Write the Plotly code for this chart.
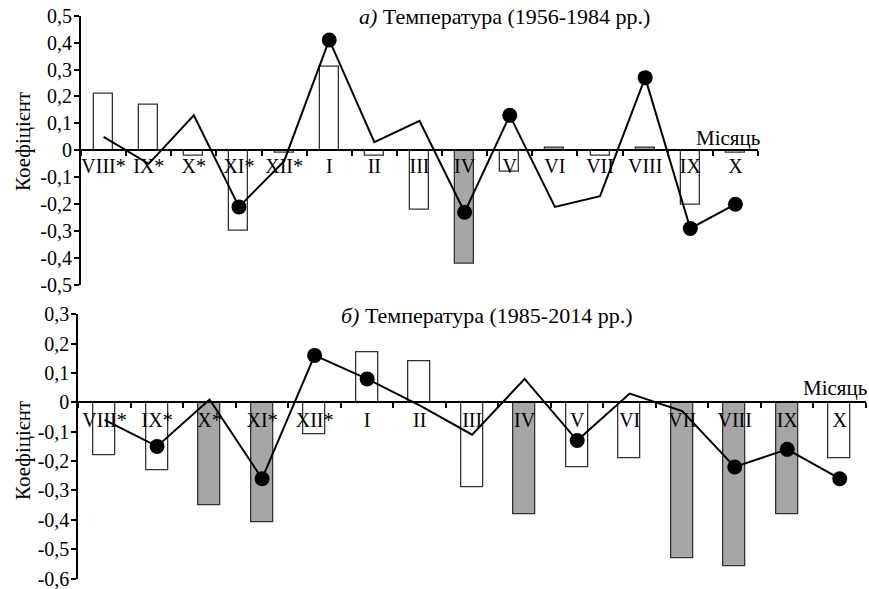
import plotly.graph_objects as go

# ---------------- data ----------------
months = ["VIII*", "IX*", "X*", "XI*", "XII*", "I", "II", "III", "IV", "V",
          "VI", "VII", "VIII", "IX", "X"]

# panel a) 1956-1984
bars_a = [0.21, 0.17, -0.02, -0.30, -0.01, 0.31, -0.02, -0.22, -0.42, -0.08,
          0.01, -0.02, 0.01, -0.20, -0.01]
sig_bars_a = [0, 0, 0, 0, 0, 0, 0, 0, 1, 0, 1, 0, 1, 0, 0]
line_a = [0.05, -0.05, 0.13, -0.21, -0.04, 0.41, 0.03, 0.11, -0.23, 0.13,
          -0.21, -0.17, 0.27, -0.29, -0.20]
sig_line_a = [0, 0, 0, 1, 0, 1, 0, 0, 1, 1, 0, 0, 1, 1, 1]

# panel б) 1985-2014
bars_b = [-0.18, -0.23, -0.35, -0.41, -0.11, 0.17, 0.14, -0.29, -0.38, -0.22,
          -0.19, -0.53, -0.56, -0.38, -0.19]
sig_bars_b = [0, 0, 1, 1, 0, 0, 0, 0, 1, 0, 0, 1, 1, 1, 0]
line_b = [-0.06, -0.15, 0.01, -0.26, 0.16, 0.08, -0.01, -0.11, 0.08, -0.13,
          0.03, -0.03, -0.22, -0.16, -0.26]
sig_line_b = [0, 1, 0, 1, 1, 1, 0, 0, 0, 1, 0, 0, 1, 1, 1]

yticks_a = [0.5, 0.4, 0.3, 0.2, 0.1, 0, -0.1, -0.2, -0.3, -0.4, -0.5]
yticktext_a = ["0,5", "0,4", "0,3", "0,2", "0,1", "0", "-0,1", "-0,2", "-0,3", "-0,4", "-0,5"]
yticks_b = [0.3, 0.2, 0.1, 0, -0.1, -0.2, -0.3, -0.4, -0.5, -0.6]
yticktext_b = ["0,3", "0,2", "0,1", "0", "-0,1", "-0,2", "-0,3", "-0,4", "-0,5", "-0,6"]

title_a = "<i>а)</i> Температура (1956-1984 рр.)"
title_b = "<i>б)</i> Температура (1985-2014 рр.)"
x_title = "Місяць"
y_title = "Коефіцієнт"

# ---------------- layout geometry ----------------
W, H = 869, 589
FONT = "Liberation Serif"
GREY = "#a6a6a6"


def fx(px):
    return px / W


def fy(py):
    return 1 - py / H


xa_dom = [fx(81), fx(758)]
ya_dom = [fy(285), fy(15.7)]
xb_dom = [fx(78.3), fx(866)]
yb_dom = [fy(578.5), fy(314.3)]
ra = [-0.5, 0.5]
rb = [-0.6, 0.3]
zero_a = ya_dom[0] + (0 - ra[0]) / (ra[1] - ra[0]) * (ya_dom[1] - ya_dom[0])
zero_b = yb_dom[0] + (0 - rb[0]) / (rb[1] - rb[0]) * (yb_dom[1] - yb_dom[0])

xs = list(range(len(months)))
bounds = [i - 0.5 for i in range(len(months) + 1)]

fig = go.Figure()


def add_panel(bars, sig_bars, line, sig_line, xa, ya):
    fig.add_trace(go.Bar(
        x=xs, y=bars, xaxis=xa, yaxis=ya, width=0.42,
        marker=dict(color=[GREY if s else "white" for s in sig_bars],
                    line=dict(color="#333333", width=1.3)),
        hoverinfo="y", showlegend=False))
    fig.add_trace(go.Scatter(
        x=xs, y=line, xaxis=xa, yaxis=ya, mode="lines+markers",
        line=dict(color="black", width=2),
        marker=dict(color="black", opacity=1, line=dict(width=0),
                    size=[15 if s else 0 for s in sig_line]),
        showlegend=False))


add_panel(bars_a, sig_bars_a, line_a, sig_line_a, "x", "y")
add_panel(bars_b, sig_bars_b, line_b, sig_line_b, "x2", "y2")


def xaxis_main(dom, pos, standoff):
    return dict(domain=dom, anchor="free", position=pos, range=[-0.5, 14.5],
                tickmode="array", tickvals=xs, ticktext=months, ticks="",
                ticklabelstandoff=standoff, automargin=False,
                ticklabeloverflow="allow",
                tickfont=dict(size=20, family=FONT, color="black"),
                showline=True, linecolor="black", linewidth=2,
                showgrid=False, zeroline=False,
                minor=dict(tickmode="array", tickvals=bounds, ticks="outside",
                           ticklen=5, tickwidth=1.5, tickcolor="black",
                           showgrid=False))


def xaxis_over(base, pos):
    return dict(overlaying=base, anchor="free", position=pos, range=[-0.5, 14.5],
                tickmode="array", tickvals=bounds, ticks="inside", ticklen=5,
                tickwidth=1.5, tickcolor="black", showticklabels=False,
                automargin=False,
                showline=False, showgrid=False, zeroline=False)


def yaxis(dom, anchor, rng, tv, tt):
    return dict(domain=dom, anchor=anchor, range=rng, tickmode="array",
                tickvals=tv, ticktext=tt, ticks="outside", ticklen=5,
                tickwidth=1.5, tickcolor="black", automargin=False,
                ticklabelstandoff=-2, ticklabeloverflow="allow",
                tickfont=dict(size=20, family=FONT, color="black"),
                showline=True, linecolor="black", linewidth=2,
                showgrid=False, zeroline=False)


annotations = [
    dict(text=title_a, x=fx(504), y=fy(16), size=22),
    dict(text=title_b, x=fx(486), y=fy(315), size=22),
    dict(text=x_title, x=fx(762), y=fy(138), xanchor="right", size=21),
    dict(text=x_title, x=fx(869), y=fy(388), xanchor="right", size=21),
    dict(text=y_title, x=fx(23), y=fy(142), textangle=-90, size=21),
    dict(text=y_title, x=fx(23), y=fy(451), textangle=-90, size=21),
]
for a in annotations:
    a.setdefault("xanchor", "center")
    size = a.pop("size")
    a.update(xref="paper", yref="paper", showarrow=False,
             yanchor="middle", font=dict(size=size, family=FONT, color="black"))

fig.update_layout(
    width=W, height=H, margin=dict(l=0, r=0, t=0, b=0),
    paper_bgcolor="white", plot_bgcolor="white",
    font=dict(family=FONT, color="black"),
    showlegend=False, bargap=0,
    xaxis=xaxis_main(xa_dom, zero_a, -2),
    yaxis=yaxis(ya_dom, "x", ra, yticks_a, yticktext_a),
    xaxis2=xaxis_main(xb_dom, zero_b, 0),
    yaxis2=yaxis(yb_dom, "x2", rb, yticks_b, yticktext_b),
    xaxis3=xaxis_over("x", zero_a),
    xaxis4=xaxis_over("x2", zero_b),
    annotations=annotations,
)

# remove the default 8px page margin so the figure fills the window exactly
fig.write_html("out.html",
               config={"displayModeBar": False},
               post_script="document.body.style.margin='0px';"
                           "document.body.style.overflow='hidden';")
